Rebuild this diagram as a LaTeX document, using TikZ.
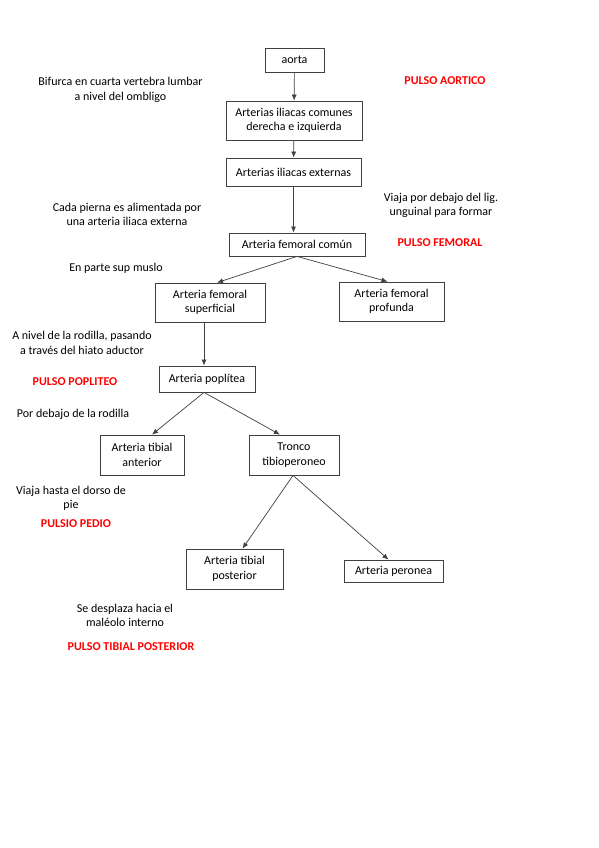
\documentclass[tikz,border=0pt]{standalone}
\usepackage{fontspec}
\setmainfont{Carlito}
\usepackage{xcolor}
\usepackage{tikz}
\usetikzlibrary{arrows.meta}
\definecolor{pulse}{RGB}{255, 0, 0}
\definecolor{line}{RGB}{64, 64, 64}

\tikzset{
  artery/.style={draw=line, line width=0.8pt, align=center, inner sep=0pt,
    font=\fontsize{12}{14.5}\selectfont},
  note/.style={align=center, font=\fontsize{12}{14.5}\selectfont},
  flow/.style={-{Latex[length=6pt,width=5pt]}, draw=line, line width=0.7pt}
}

\begin{document}
\begin{tikzpicture}[x=1pt, y=-1pt]
\useasboundingbox[fill=white] (0,0) rectangle (599,848);

% Arteries
\node[artery, minimum width=59pt, minimum height=24pt] (aorta) at (294.5,60) {aorta};
\node[artery, minimum width=136pt, minimum height=39pt] (comunes) at (294,120.5) {Arterias iliacas comunes\\derecha e izquierda};
\node[artery, minimum width=135pt, minimum height=28pt] (externas) at (293.5,172) {Arterias iliacas externas};
\node[artery, minimum width=136pt, minimum height=23pt] (femcom) at (297,244.5) {Arteria femoral común};
\node[artery, minimum width=110pt, minimum height=39pt] (femsup) at (210,302.5) {Arteria femoral\\superficial};
\node[artery, minimum width=105pt, minimum height=39pt] (femprof) at (391.5,301.5) {Arteria femoral\\profunda};
\node[artery, minimum width=96pt, minimum height=26pt] (poplitea) at (207,379) {Arteria poplítea};
\node[artery, minimum width=84pt, minimum height=40pt] (tibant) at (142,455) {Arteria tibial\\anterior};
\node[artery, minimum width=90pt, minimum height=40pt] (tronco) at (294,455) {Tronco\\tibioperoneo};
\node[artery, minimum width=97pt, minimum height=40pt] (tibpost) at (234.5,569) {Arteria tibial\\posterior};
\node[artery, minimum width=99pt, minimum height=22pt] (peronea) at (393.5,571) {Arteria peronea};

% Connections
\draw[flow] (aorta) -- (comunes);
\draw[flow] (comunes) -- (externas);
\draw[flow] (externas.south) -- (externas.south |- femcom.north);
\draw[flow] (femcom.south) -- ([xshift=7pt]femsup.north);
\draw[flow] (femcom.south) -- ([xshift=-4pt]femprof.north);
\draw[flow] ([xshift=-6pt]femsup.south) -- ([xshift=-3pt]poplitea.north);
\draw[flow] ([xshift=-3pt]poplitea.south) -- ([xshift=10pt]tibant.north);
\draw[flow] ([xshift=-3pt]poplitea.south) -- ([xshift=-14pt]tronco.north);
\draw[flow] ([xshift=-1pt]tronco.south) -- ([xshift=8pt]tibpost.north);
\draw[flow] ([xshift=-1pt]tronco.south) -- ([xshift=-5pt]peronea.north);

% Notes
\node[note] (bifurca) at (120.5,90) {Bifurca en cuarta vertebra lumbar\\a nivel del ombligo};
\node[note] (pierna) at (127,214.5) {Cada pierna es alimentada por\\una arteria iliaca externa};
\node[note] (viaja) at (441,205.5) {Viaja por debajo del lig.\\unguinal para formar};
\node[note] (muslo) at (116,268) {En parte sup muslo};
\node[note] (rodilla) at (82,343) {A nivel de la rodilla, pasando\\a través del hiato aductor};
\node[note] (debajo) at (73,414) {Por debajo de la rodilla};
\node[note] (dorso) at (71,498.5) {Viaja hasta el dorso de\\pie};
\node[note] (maleolo) at (125,615.5) {Se desplaza hacia el\\maléolo interno};

% Pulses
\foreach \px/\py/\name/\pulso in {445/81/aortico/PULSO AORTICO, 440/243/femoral/PULSO FEMORAL,
    75/382/popliteo/PULSO POPLITEO, 76/524/pedio/PULSIO PEDIO, 131/647/tibial/PULSO TIBIAL POSTERIOR} {
    \node[note, pulse, font=\fontsize{12}{14.5}\selectfont\bfseries] (\name) at (\px,\py) {\pulso};
}
\end{tikzpicture}
\end{document}
